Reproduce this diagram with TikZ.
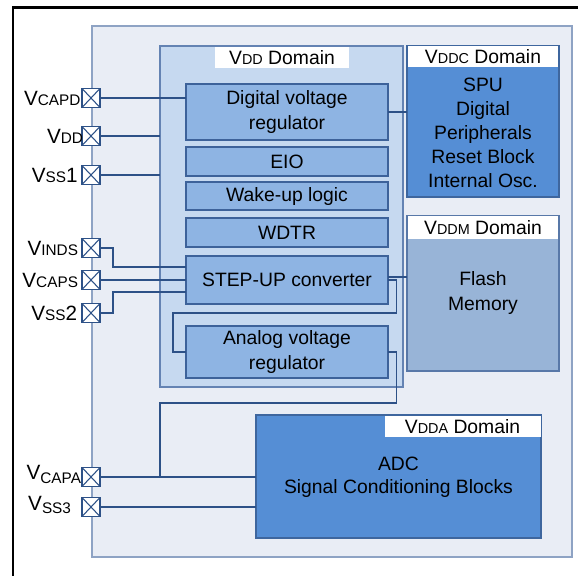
\documentclass[tikz,border=0pt]{standalone}
\usepackage{fontspec}
\setmainfont{Liberation Sans}
\newcommand\smc[1]{{\fontsize{10.8}{12}\selectfont #1}}
\newcommand\psm[1]{{\fontsize{11.5}{12}\selectfont #1}}
\newcommand\psub[1]{\raisebox{-2.6pt}{\fontsize{11.5}{12}\selectfont #1}}
\definecolor{outerfill}{HTML}{E9EDF5}
\definecolor{outerline}{HTML}{8EA3C4}
\definecolor{domfill}{HTML}{C6D9F0}
\definecolor{domline}{HTML}{6483B3}
\definecolor{blkfill}{HTML}{8EB4E3}
\definecolor{blkline}{HTML}{3D629A}
\definecolor{darkfill}{HTML}{558ED5}
\definecolor{darkline}{HTML}{3E669E}
\definecolor{greyfill}{HTML}{98B4D7}
\definecolor{greyline}{HTML}{5878A8}
\definecolor{wirecol}{HTML}{2D5187}
\begin{document}
\begin{tikzpicture}[x=0.75pt,y=-0.75pt,
  sz/.style 2 args={minimum width=#1*0.75pt, minimum height=#2*0.75pt},
  every node/.style={inner sep=0pt, outer sep=0pt},
  txt/.style={font=\fontsize{14.5}{18.5}\selectfont, align=center, text=black},
  outerbox/.style={draw=outerline, fill=outerfill, line width=1pt, rectangle},
  dombox/.style={draw=domline, fill=domfill, line width=1pt, rectangle},
  blk/.style={draw=blkline, fill=blkfill, line width=1pt, rectangle, txt},
  darkbox/.style={draw=darkline, fill=darkfill, line width=1pt, rectangle},
  greybox/.style={draw=greyline, fill=greyfill, line width=1pt, rectangle},
  ttl/.style={fill=white, rectangle, txt},
  wire/.style={draw=wirecol, line width=0.9pt},
  pad/.style={draw=wirecol, fill=white, line width=1pt, rectangle, sz={18}{19},
    path picture={\draw[wirecol, line width=0.8pt]
      (path picture bounding box.north west) -- (path picture bounding box.south east)
      (path picture bounding box.south west) -- (path picture bounding box.north east);}},
  plabel/.style={anchor=east, font=\fontsize{15.5}{17}\selectfont, text=black}
]
\fill[white] (0,0) rectangle (578,575);
\useasboundingbox (0,0) rectangle (578,575);
\draw[black, line width=1.6pt] (13,580) -- (13,7.5) -- (585,7.5);

% chip and VDD domain
\node[outerbox, sz={480}{531}] (chip) at (332,291.5) {};
\node[dombox, sz={243}{341}] (vdd) at (281.5,216.5) {};
\node[ttl, sz={134}{21}] (tvdd) at (282,57.5) {V\smc{DD} Domain};

% blocks in VDD domain
\node[blk, sz={202}{56}] (dvr) at (287,112) {Digital voltage\\regulator};
\node[blk, sz={202}{29}] (eio) at (287,161.5) {EIO};
\node[blk, sz={202}{28}] (wake) at (287,196) {Wake-up logic};
\node[blk, sz={202}{29}] (wdtr) at (287,232.5) {WDTR};
\node[blk, sz={202}{48}] (step) at (287,280) {STEP-UP converter};
\node[blk, sz={202}{52}] (ana) at (287,352) {Analog voltage\\regulator};

% VDDC domain
\node[darkbox, sz={152}{151}] (vddc) at (483,121.5) {};
\node[ttl, sz={150}{21}] (tvddc) at (483,56.5) {V\smc{DDC} Domain};
\node[txt, font=\fontsize{14.5}{18}\selectfont] (bvddc) at (483,132.5) {SPU\\Digital\\Peripherals\\Reset Block\\Internal Osc.};

% VDDM domain
\node[greybox, sz={152}{155}] (vddm) at (483,293.5) {};
\node[ttl, sz={150}{23}] (tvddm) at (483,227.5) {V\smc{DDM} Domain};
\node[txt] (bvddm) at (483,293) {Flash\\Memory};

% VDDA domain
\node[darkbox, sz={285}{123}] (vdda) at (398.5,476.5) {};
\node[ttl, sz={156}{21}] (tvdda) at (462.5,426.5) {V\smc{DDA} Domain};
\node[txt, font=\fontsize{14.5}{17.5}\selectfont] (bvdda) at (398.5,477) {ADC\\Signal Conditioning Blocks};

% internal wires
\draw[wire] (dvr.east) -- (dvr.east -| vddc.west);
\draw[wire] (step.east |- 0,277) -- (vddm.west |- 0,277);
\draw[wire] (step.east) -- (396.5,280) -- (396.5,313) -- (173,313) -- (173,352) -- (ana.west);

% pads
\node[pad] (pcapd) at (91,98) {};
\node[pad] (pvdd) at (91,136) {};
\node[pad] (pss1) at (91,175) {};
\node[pad] (pinds) at (91,248) {};
\node[pad] (pcaps) at (91,280) {};
\node[pad] (pss2) at (91,313) {};
\node[pad] (pcapa) at (91,477) {};
\node[pad] (pss3) at (91,507) {};

\coordinate (jcapa) at (160,477);

% pad wires
\draw[wire] (pcapd.east) -- (pcapd.east -| dvr.west);
\draw[wire] (pvdd.east) -- (pvdd.east -| vdd.west);
\draw[wire] (pss1.east) -- (pss1.east -| vdd.west);
\draw[wire] (pinds.east) -- (113,248) -- (113,267) -- (step.west |- 0,267);
\draw[wire] (pcaps.east) -- (pcaps.east -| step.west);
\draw[wire] (pss2.east) -- (113,313) -- (113,292) -- (step.west |- 0,292);
\draw[wire] (pcapa.east) -- (pcapa.east -| vdda.west);
\draw[wire] (pss3.east) -- (pss3.east -| vdda.west);
\draw[wire] (ana.east) -- (396.5,352) -- (396.5,403) -- (160,403) -- (jcapa);

% redraw pads on top
\foreach \p in {pcapd,pvdd,pss1,pinds,pcaps,pss2,pcapa,pss3}{
  \node[pad] at (\p) {};
}

% pad labels
\node[plabel] (lcapd) at (80.5,98.5) {V\psm{CAPD}};
\node[plabel] (lvdd) at (83,136.5) {V\psm{DD}};
\node[plabel] (lss1) at (77.5,175) {V\psm{SS}1};
\node[plabel] (linds) at (78,248) {V\psm{INDS}};
\node[plabel] (lcaps) at (78,280) {V\psm{CAPS}};
\node[plabel] (lss2) at (77,313) {V\psm{SS}2};
\node[plabel] (lcapa) at (81,474.5) {V\psub{CAPA}};
\node[plabel] (lss3) at (71,505) {V\psub{SS3}};
\end{tikzpicture}
\end{document}
